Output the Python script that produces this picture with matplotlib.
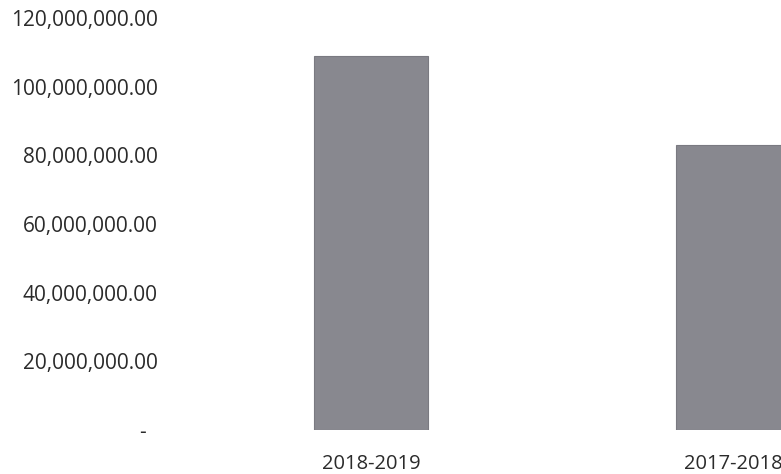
import matplotlib.pyplot as plt
from matplotlib.ticker import FuncFormatter

# --- DATA ---
years = ["2018-2019", "2017-2018"]
amounts = [109_000_000, 83_000_000]
y_ticks = [0, 20_000_000, 40_000_000, 60_000_000, 80_000_000, 100_000_000, 120_000_000]

BAR_COLOR = "#88888f"
TEXT_COLOR = "#2b2b2b"

plt.rcParams['font.family'] = ['Open Sans', 'DejaVu Sans']

fig = plt.figure(figsize=(7.81, 4.74), dpi=100, facecolor="white")
# axes runs off the right edge, like the cropped scan
ax = fig.add_axes([170 / 781, 44 / 474, (781 - 170) / 781, 412 / 474])

ax.bar(years, amounts, width=0.315, color=BAR_COLOR, edgecolor="#7a7a81", linewidth=0.8)

ax.set_xlim(-0.555, 1.133)
ax.set_ylim(0, 120_000_000)
ax.set_yticks(y_ticks)


def money(v, pos):
    if v == 0:
        return "-  "
    return f"{v:,.2f}"


ax.yaxis.set_major_formatter(FuncFormatter(money))

for side in ["top", "right", "bottom", "left"]:
    ax.spines[side].set_visible(False)
ax.tick_params(axis="both", length=0, colors=TEXT_COLOR)
ax.tick_params(axis="y", pad=9, labelsize=15)
ax.tick_params(axis="x", pad=17, labelsize=14.5)

plt.savefig("out.png", dpi=100, facecolor="white")
